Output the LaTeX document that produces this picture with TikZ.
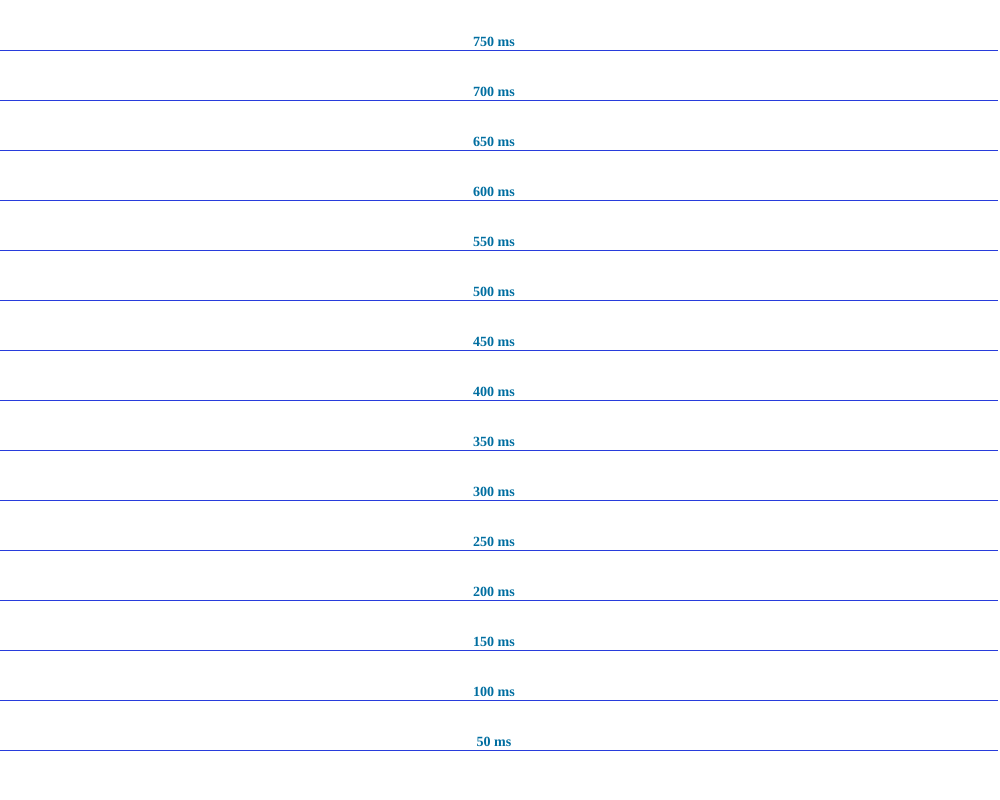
\documentclass[tikz,border=0pt]{standalone}
\usepackage{fontspec}
\setmainfont{Liberation Serif}
\definecolor{gridblue}{RGB}{40,60,220}
\definecolor{labelteal}{RGB}{0,110,160}
\tikzset{
  msline/.style={draw=gridblue, line width=0.5pt},
  mslabel/.style={text=labelteal, font=\fontsize{8}{9}\selectfont\bfseries, anchor=south, inner sep=1pt}
}
\begin{document}
\begin{tikzpicture}[x=0.02cm, y=0.02cm]

  % --- cornice (1000 x 800) ---
  \useasboundingbox (0,0) rectangle (1000,800);

  % --- righe orizzontali con etichette in ms ---
  \foreach \v in {50,100,...,750} {
    \draw[msline] (0,\v) -- (998,\v);
    \node[mslabel] (lbl\v) at (494,\v+1) {\v\ ms};
  }

\end{tikzpicture}
\end{document}
